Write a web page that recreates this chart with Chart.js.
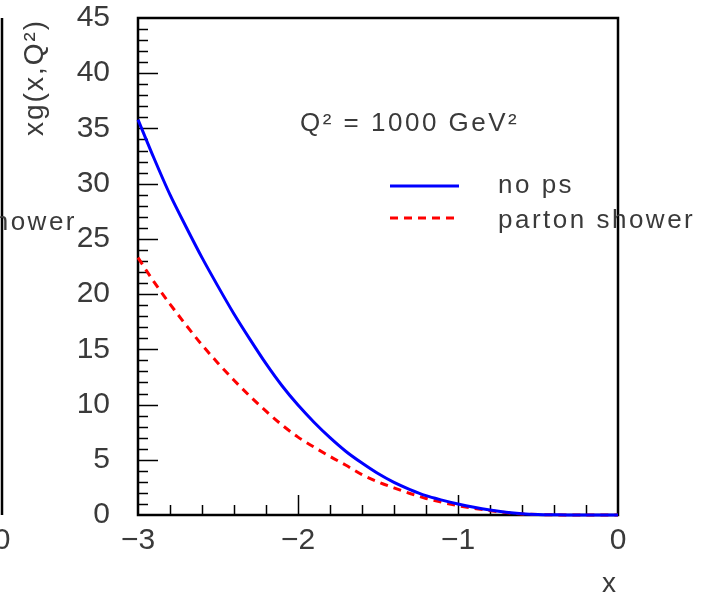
<!DOCTYPE html>
<html>
<head>
<meta charset="utf-8">
<script src="https://cdn.jsdelivr.net/npm/chart.js@4.4.0/dist/chart.umd.min.js"></script>
<style>
html, body { margin: 0; padding: 0; background: #fff; }
#wrap { width: 701px; height: 594px; }
</style>
</head>
<body>
<div id="wrap"><canvas id="gluonChart" width="701" height="594"></canvas></div>
<script>
// x = log10(x) values
var xValues = [-3.0, -2.9, -2.8, -2.7, -2.6, -2.5, -2.4, -2.3, -2.2, -2.1,
               -2.0, -1.9, -1.8, -1.7, -1.6, -1.5, -1.4, -1.3, -1.2, -1.1,
               -1.0, -0.9, -0.8, -0.7, -0.6, -0.5, -0.4, -0.3, -0.2, -0.1, 0.0];
// xg(x,Q^2) without parton shower
var noPsValues = [35.8, 32.3, 29.0, 26.1, 23.3, 20.7, 18.2, 15.9, 13.7, 11.7,
                  9.95, 8.4, 7.0, 5.75, 4.7, 3.75, 2.95, 2.3, 1.75, 1.35,
                  1.0, 0.7, 0.45, 0.25, 0.12, 0.05, 0.02, 0, 0, 0, 0];
// xg(x,Q^2) with parton shower
var showerValues = [23.3, 21.1, 19.1, 17.2, 15.4, 13.75, 12.2, 10.75, 9.4, 8.15,
                    7.05, 6.15, 5.3, 4.5, 3.65, 3.0, 2.45, 1.95, 1.5, 1.15,
                    0.85, 0.6, 0.4, 0.22, 0.1, 0.04, 0.01, 0, 0, 0, 0];
var seriesLabels = ['no ps', 'parton shower'];
var yTicks = [0, 5, 10, 15, 20, 25, 30, 35, 40, 45];
var xTicks = [-3, -2, -1, 0];

var textColor = '#3a3a3a';
var fontFam = "'Liberation Sans', Helvetica, Arial, sans-serif";

function toPoints(ys) {
    var pts = [];
    for (var i = 0; i < xValues.length; i++) {
        pts.push({ x: xValues[i], y: ys[i] });
    }
    return pts;
}

function minusLabel(v) {
    return v < 0 ? '\u2212' + Math.abs(v) : String(v);
}

// frame, inner ticks, labels and legend drawn like the ROOT plot
var rootStyle = {
    id: 'rootStyle',
    beforeDatasetsDraw: function(chart) {
        var ctx = chart.ctx;
        var a = chart.chartArea;
        var xs = chart.scales.x, ys = chart.scales.y;
        ctx.save();
        ctx.strokeStyle = '#000';
        ctx.lineWidth = 1.5;
        // y ticks: minor every 1, major every 5
        for (var v = 1; v < 45; v++) {
            var py = Math.round(ys.getPixelForValue(v)) + 0.5;
            var len = (v % 5 === 0) ? 20 : 10;
            ctx.beginPath();
            ctx.moveTo(a.left, py);
            ctx.lineTo(a.left + len, py);
            ctx.stroke();
        }
        // x ticks: minor every 0.2, major every 1
        for (var i = 1; i < 15; i++) {
            var px = Math.round(xs.getPixelForValue(-3 + i * 0.2)) + 0.5;
            var l2 = (i % 5 === 0) ? 20 : 10;
            ctx.beginPath();
            ctx.moveTo(px, a.bottom);
            ctx.lineTo(px, a.bottom - l2);
            ctx.stroke();
        }
        ctx.lineWidth = 2.5;
        ctx.strokeRect(a.left, a.top, a.right - a.left, a.bottom - a.top);
        // right edge of the neighbouring panel
        ctx.beginPath();
        ctx.moveTo(2, a.top);
        ctx.lineTo(2, a.bottom);
        ctx.stroke();
        ctx.restore();
    },
    afterDraw: function(chart) {
        var ctx = chart.ctx;
        var ds = chart.data.datasets;
        ctx.save();
        ctx.fillStyle = textColor;
        ctx.letterSpacing = '2.5px';
        ctx.textBaseline = 'alphabetic';

        // annotation
        ctx.font = '26px ' + fontFam;
        ctx.textAlign = 'left';
        ctx.fillText('Q\u00b2 = 1000 GeV\u00b2', 300, 131);

        // legend
        var rows = [186, 218];
        for (var k = 0; k < ds.length; k++) {
            ctx.save();
            ctx.strokeStyle = ds[k].borderColor;
            ctx.lineWidth = 3;
            ctx.setLineDash(ds[k].borderDash || []);
            ctx.beginPath();
            ctx.moveTo(390, rows[k]);
            ctx.lineTo(459, rows[k]);
            ctx.stroke();
            ctx.restore();
            ctx.fillText(ds[k].label, 498, rows[k] + (k === 0 ? 7 : 10));
        }

        // pieces of the neighbouring panel on the left
        ctx.textAlign = 'right';
        ctx.fillText(seriesLabels[1], 77, 230);
        ctx.font = '30px ' + fontFam;
        ctx.letterSpacing = '0px';
        ctx.textAlign = 'center';
        ctx.textBaseline = 'middle';
        ctx.fillText('0', 2, 541);

        // axis titles
        ctx.textBaseline = 'alphabetic';
        ctx.font = '28px ' + fontFam;
        ctx.fillText('x', 609, 592);
        ctx.fillText('x', -7, 592);
        ctx.letterSpacing = '2px';
        ctx.translate(43, 136);
        ctx.rotate(-Math.PI / 2);
        ctx.textAlign = 'left';
        ctx.fillText('xg(x,Q\u00b2)', 0, 0);
        ctx.restore();
    }
};

var chart = new Chart(document.getElementById('gluonChart'), {
    type: 'line',
    data: {
        datasets: [
            {
                label: seriesLabels[0],
                data: toPoints(noPsValues),
                borderColor: '#0000ff',
                borderWidth: 3,
                pointRadius: 0,
                fill: false,
                cubicInterpolationMode: 'monotone',
                clip: 4
            },
            {
                label: seriesLabels[1],
                data: toPoints(showerValues),
                borderColor: '#ff0000',
                borderWidth: 3,
                borderDash: [8, 6],
                pointRadius: 0,
                fill: false,
                cubicInterpolationMode: 'monotone',
                clip: 4
            }
        ]
    },
    options: {
        responsive: false,
        animation: false,
        layout: { padding: { top: 18, right: 83, left: 0, bottom: 0 } },
        plugins: {
            legend: { display: false },
            tooltip: { enabled: false }
        },
        scales: {
            x: {
                type: 'linear',
                min: -3,
                max: 0,
                afterBuildTicks: function(axis) {
                    axis.ticks = xTicks.map(function(v) { return { value: v }; });
                },
                afterFit: function(axis) {
                    axis.height = 79;
                    axis.paddingLeft = 0;
                    axis.paddingRight = 0;
                },
                grid: { display: false, drawTicks: false },
                border: { display: false },
                ticks: {
                    padding: 8,
                    maxRotation: 0,
                    color: textColor,
                    font: { family: fontFam, size: 30 },
                    callback: function(v) { return minusLabel(v); }
                }
            },
            y: {
                type: 'linear',
                min: 0,
                max: 45,
                afterBuildTicks: function(axis) {
                    axis.ticks = yTicks.map(function(v) { return { value: v }; });
                },
                afterFit: function(axis) {
                    axis.width = 138;
                    axis.paddingTop = 0;
                    axis.paddingBottom = 0;
                },
                grid: { display: false, drawTicks: false },
                border: { display: false },
                ticks: {
                    padding: 28,
                    color: textColor,
                    font: { family: fontFam, size: 30 },
                    callback: function(v) { return String(v); }
                }
            }
        }
    },
    plugins: [rootStyle]
});
</script>
</body>
</html>
